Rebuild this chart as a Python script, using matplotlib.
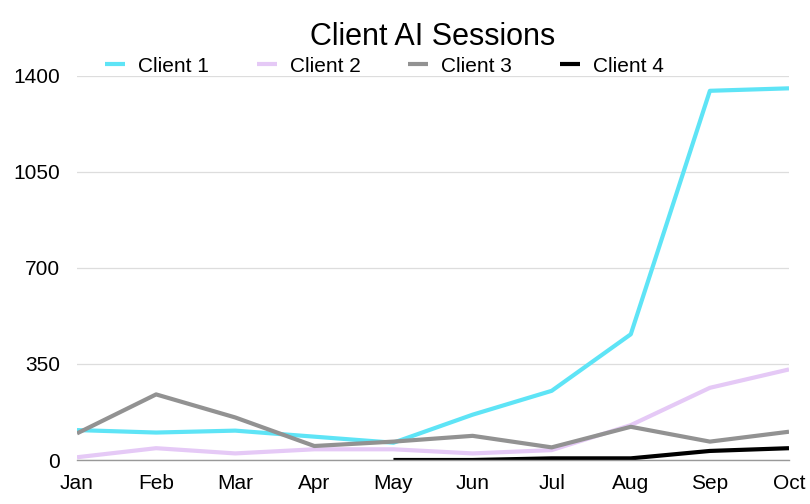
import numpy as np
import matplotlib
matplotlib.use('Agg')
import matplotlib.pyplot as plt

plt.rcParams['font.family'] = ['Liberation Sans', 'DejaVu Sans']

months = ['Jan', 'Feb', 'Mar', 'Apr', 'May', 'Jun', 'Jul', 'Aug', 'Sep', 'Oct']
client1 = [109, 100, 107, 85, 63, 165, 252, 458, 1345, 1354]
client2 = [10, 43, 24, 39, 39, 24, 36, 127, 263, 330]
client3 = [97, 239, 155, 51, 67, 88, 46, 121, 67, 103]
client4 = [np.nan, np.nan, np.nan, np.nan, 0, 0, 6, 6, 33, 43]

series = [('Client 1', client1, '#5ee4f6'),
          ('Client 2', client2, '#e5c9f6'),
          ('Client 3', client3, '#929292'),
          ('Client 4', client4, '#000000')]

fig = plt.figure(figsize=(8.1, 5.04), dpi=100)
ax = fig.add_axes([77 / 810, 44 / 504, 712 / 810, 384.3 / 504])

x = np.arange(len(months))
for name, vals, col in series:
    ax.plot(x, vals, color=col, lw=3, label=name, solid_capstyle='butt')

ax.set_xlim(0, len(months) - 1)
ax.set_ylim(0, 1400)
ax.set_yticks([0, 350, 700, 1050, 1400])
ax.set_xticks(x)
ax.set_xticklabels(months)
ax.tick_params(axis='both', length=0, labelsize=15, pad=12)
ax.tick_params(axis='x', pad=10)
ax.grid(axis='y', color='#dddddd', lw=0.9)
ax.set_axisbelow(True)
for s in ['top', 'right', 'left']:
    ax.spines[s].set_visible(False)
ax.spines['bottom'].set_color('#999999')
ax.spines['bottom'].set_linewidth(1)

# title placed in figure coords (baseline)
fig.text(433 / 810, 1 - 45 / 504, 'Client AI Sessions', fontsize=22,
         ha='center', va='baseline')

fig.legend(loc='center left', bbox_to_anchor=(105 / 810, 1 - 66 / 504), ncol=4,
           frameon=False, fontsize=15, handlelength=0.96, handletextpad=0.62,
           columnspacing=2.3, borderpad=0, borderaxespad=0)

fig.savefig('out.png', dpi=100)
